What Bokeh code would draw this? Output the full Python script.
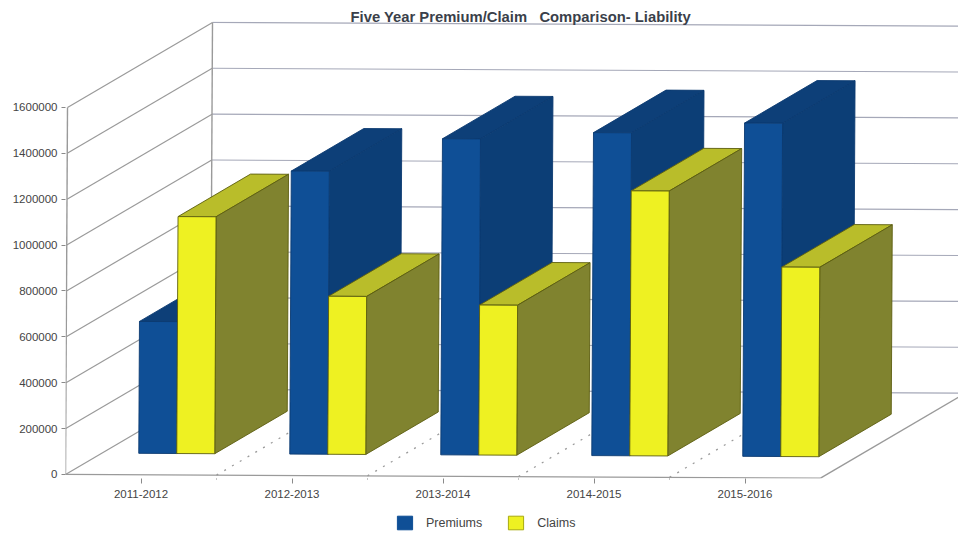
from bokeh.plotting import figure
from bokeh.embed import file_html
from bokeh.layouts import column
from bokeh.resources import INLINE
from bokeh.models import FixedTicker, Legend, LegendItem, Range1d, Title

title_text = "Five Year Premium/Claim\u00a0\u00a0\u00a0Comparison- Liability"
categories = ["2011-2012", "2012-2013", "2013-2014", "2014-2015", "2015-2016"]
premiums = [575000, 1234000, 1378000, 1408000, 1453000]
claims = [1033000, 689000, 654000, 1155000, 826000]
y_ticks = [0, 200000, 400000, 600000, 800000, 1000000, 1200000, 1400000, 1600000]
legend_labels = ["Premiums", "Claims"]

FONT = "Liberation Sans"
PX_X = 151.0            # pixels per category
PX_Y = 1600000 / 367.0  # value per pixel
DX = 145 / PX_X         # depth vector (categories)
DY = 85 * PX_Y          # depth vector (value units)
TILT = 0.75 * PX_Y      # slight scan tilt of the source picture
SKEW = (2 / PX_X) / 1600000

def pr(c, v, d):
    return (c + d * DX + v * SKEW, v + d * DY - c * TILT)

def line(a, b):
    p0, p1 = pr(*a), pr(*b)
    return [p0[0], p1[0]], [p0[1], p1[1]]

FW, FH = 893, 457
p = figure(width=958, height=505, output_backend="svg", toolbar_location=None,
           x_range=Range1d(0, FW / PX_X),
           y_range=Range1d(-4.1 * PX_Y, (FH - 4.1) * PX_Y),
           min_border_left=65, min_border_right=0, min_border_bottom=27, min_border_top=21,
           outline_line_color=None, background_fill_color="white", border_fill_color="white")
p.grid.visible = False

t = Title(text=title_text, align="left", offset=285, standoff=-6,
          text_font=FONT, text_font_size="14.8px", text_font_style="bold", text_color="#3a3f4a")
p.title = t

# axes
p.yaxis.ticker = FixedTicker(ticks=y_ticks)
p.yaxis.formatter.use_scientific = False
p.yaxis.axis_line_color = None
p.yaxis.major_tick_line_color = "#8a8a8a"
p.yaxis.major_tick_in = 0
p.yaxis.major_tick_out = 4
p.yaxis.minor_tick_line_color = None
p.yaxis.major_label_text_font = FONT
p.yaxis.major_label_text_font_size = "11.5px"
p.yaxis.major_label_text_color = "#444444"
p.yaxis.major_label_standoff = 4

p.xaxis.ticker = FixedTicker(ticks=[i + 0.5 for i in range(5)], minor_ticks=[1, 2, 3, 4])
p.xaxis.major_label_overrides = {i + 0.5: c for i, c in enumerate(categories)}
p.xaxis.axis_line_color = None
p.xaxis.major_tick_line_color = "#8a8a8a"
p.xaxis.major_tick_in = 0
p.xaxis.major_tick_out = 5
p.xaxis.minor_tick_line_color = "#8a8a8a"
p.xaxis.minor_tick_in = 0
p.xaxis.minor_tick_out = 1
p.xaxis.major_label_text_font = FONT
p.xaxis.major_label_text_font_size = "11.5px"
p.xaxis.major_label_text_color = "#444444"
p.xaxis.major_label_standoff = 6

# walls and floor
WALL = "#9a9a9a"
GRID = "#a5a8b8"
for v in y_ticks:
    xs, ys = line((0, v, 0), (0, v, 1))
    p.line(xs, ys, line_color=WALL, line_width=1.2)
    xs, ys = line((0, v, 1), (7, v, 1))
    p.line(xs, ys, line_color=GRID, line_width=1.2)
for a, b in [((0, 0, 0), (0, y_ticks[-1], 0)), ((0, 0, 1), (0, y_ticks[-1], 1)),
             ((0, 0, 0), (5, 0, 0)), ((5, 0, 0), (5, 0, 1))]:
    xs, ys = line(a, b)
    p.line(xs, ys, line_color=WALL, line_width=1.4)
for c in range(1, 5):
    xs, ys = line((c, 0, 0), (c, 0, 1))
    p.line(xs, ys, line_color="#9a9a9a", line_width=1.3, line_dash="2 7")

# bars
OFF, BW, D0, D1 = 37 / PX_X, 38 / PX_X, 0.25, 0.75
series = [(premiums, 0, "#0f4f96", "#0d3f78", "#0c3e76", "#0b3a70"),
          (claims, 1, "#eef122", "#b9bd2a", "#80832f", "#5c5e10")]
for c in range(5):
    for vals, k, cf, ct, cs, edge in series:
        v = vals[c]
        l = c + OFF + k * BW
        r = l + BW
        faces = [
            ([(l, v, D0), (l, v, D1), (r, v, D1), (r, v, D0)], ct),
            ([(r, 0, D0), (r, 0, D1), (r, v, D1), (r, v, D0)], cs),
            ([(l, 0, D0), (r, 0, D0), (r, v, D0), (l, v, D0)], cf),
        ]
        for pts, col in faces:
            q = [pr(*a) for a in pts]
            p.patch([a[0] for a in q], [a[1] for a in q], fill_color=col,
                    line_color=edge, line_width=0.9)

# legend strip: its renderers only supply the swatches, so they lie outside the visible range
p2 = figure(width=958, height=30, output_backend="svg", toolbar_location=None,
            x_range=Range1d(0, 1), y_range=Range1d(0, 1),
            min_border=0, outline_line_color=None, x_axis_location=None, y_axis_location=None)
p2.grid.visible = False
r1 = p2.patch([2, 3, 3], [2, 2, 3], fill_color="#0f4f96", line_color="#0f4f96")
r2 = p2.patch([2, 3, 3], [2, 2, 3], fill_color="#eef122", line_color="#a8aa10")
legend = Legend(items=[LegendItem(label=legend_labels[0], renderers=[r1]),
                       LegendItem(label=legend_labels[1], renderers=[r2])],
                orientation="horizontal", location=(330, 4),
                border_line_color=None, background_fill_alpha=0,
                glyph_width=19, glyph_height=17, label_standoff=12, spacing=24,
                padding=0, margin=0,
                label_text_font=FONT, label_text_font_size="12.5px", label_text_color="#444444")
p2.add_layout(legend, "center")

open("out.html", "w").write(file_html(column(p, p2, spacing=0), INLINE))
